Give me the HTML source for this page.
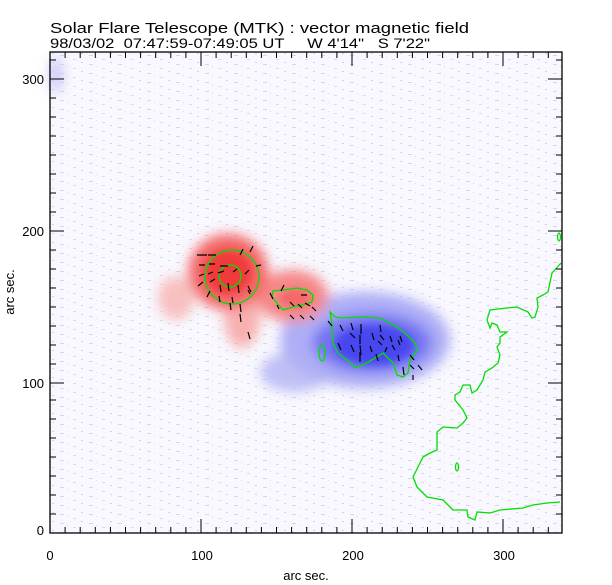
<!DOCTYPE html>
<html><head><style>
body{margin:0;background:#fff;}
svg{display:block;font-family:"Liberation Sans",sans-serif;}
</style></head><body>
<svg width="612" height="585" viewBox="0 0 612 585" xmlns="http://www.w3.org/2000/svg">
<defs>
<filter id="bl" x="-50%" y="-50%" width="200%" height="200%"><feGaussianBlur stdDeviation="6"/></filter>
<filter id="bl2" x="-50%" y="-50%" width="200%" height="200%"><feGaussianBlur stdDeviation="4"/></filter>
<pattern id="noise" width="29" height="9" patternUnits="userSpaceOnUse">
<rect x="2" y="1" width="4" height="1" fill="#d4d4f6"/><rect x="15" y="5" width="3" height="1" fill="#dadaf8"/><rect x="23" y="8" width="2" height="1" fill="#d0d0f4"/><rect x="9" y="3" width="1" height="1" fill="#f6d0d0"/>
</pattern>
</defs>
<text x="50" y="33" font-size="15" fill="#000" textLength="419" lengthAdjust="spacingAndGlyphs">Solar Flare Telescope (MTK) : vector magnetic field</text>
<text x="50" y="48" font-size="13.5" fill="#000" xml:space="preserve" style="white-space:pre" textLength="380" lengthAdjust="spacingAndGlyphs">98/03/02  07:47:59-07:49:05 UT     W 4'14"   S 7'22"</text>
<rect x="50" y="52" width="512" height="481" fill="#f8f8fe"/>
<rect x="50" y="52" width="512" height="481" fill="url(#noise)"/>
<g filter="url(#bl)">
<ellipse cx="56" cy="75" rx="6" ry="18" fill="#c4c4f4"/>
<ellipse cx="176" cy="298" rx="18" ry="22" fill="#f8c0c0"/>
<ellipse cx="242" cy="318" rx="18" ry="30" fill="#f8b0b0"/>
<ellipse cx="295" cy="372" rx="35" ry="20" fill="#c0c0f6"/>
<ellipse cx="365" cy="340" rx="85" ry="48" fill="#aeaef6"/>
<ellipse cx="372" cy="343" rx="60" ry="30" fill="#7474f2"/>
<ellipse cx="292" cy="296" rx="36" ry="26" fill="#f58888"/>
<ellipse cx="228" cy="272" rx="40" ry="38" fill="#f46868"/>
</g>
<g filter="url(#bl2)">
<ellipse cx="374" cy="345" rx="40" ry="20" fill="#4646f0"/>
<ellipse cx="228" cy="272" rx="24" ry="22" fill="#f03a3a"/>
<ellipse cx="295" cy="298" rx="16" ry="9" fill="#f46868"/>
</g>
<g fill="none" stroke="#00e000" stroke-width="1.3">
<circle cx="232" cy="277" r="27"/>
<circle cx="230" cy="276" r="11"/>
<path d="M273,291 L283,290 L297,288 L307,290 L313,295 L312,302 L303,305 L293,307 L283,310 L277,303 L272,297 Z"/>
<path d="M330,312 L335,317 L342,318 L360,317 L380,318 L397,327 L407,335 L415,343 L417,350 L410,360 L408,373 L403,377 L397,375 L393,363 L383,353 L377,357 L363,365 L355,367 L347,360 L338,353 L333,343 L332,333 L332,323 Z"/>
<ellipse cx="322" cy="353" rx="3" ry="8"/>
<ellipse cx="559" cy="237" rx="1.5" ry="4"/>
<ellipse cx="457" cy="467" rx="1.5" ry="4"/>
<path d="M561,263 L552,273 L548,292 L543,295 L537,298 L538,307 L535,317 L532,318 L528,312 L517,307 L507,308 L490,310 L487,320 L490,328 L492,323 L497,325 L500,332 L507,332 L500,337 L500,343 L497,347 L500,355 L498,363 L492,368 L485,372 L483,380 L477,390 L472,393 L470,385 L463,385 L460,392 L455,395 L455,400 L463,410 L467,418 L463,423 L457,428 L443,427 L437,432 L437,450 L430,453 L423,457 L418,467 L413,477 L417,487 L427,497 L443,500 L453,510 L467,510 L468,517 L475,520 L477,512 L490,513 L500,510 L523,508 L533,505 L547,503 L560,502"/>
</g>
<g stroke="#000" stroke-width="1.2">
<path d="M197,255h10M208,255h8M199,265h6M209,264h6M220,266h8M240,255l3,-6M250,252l3,-6M199,276l5,-2M208,274l5,-2M218,273l6,-2M233,272l4,-3M245,274l4,-4M256,266l5,-1M198,286l5,-4M210,282l5,-3M220,285l1,7M228,283l1,8M238,285l1,8M248,286l3,6M207,297l3,-6M219,296l1,6M232,297l1,6M250,294l-2,-4M230,303l1,7M240,304l1,8M240,314l1,8M248,332l2,7M270,293l3,6M281,291l3,-6M307,295l-6,0M277,305l2,4M290,302l4,4M298,304l4,4M305,303l5,3M312,307l4,4M290,315l4,4M300,315l4,4M310,316l4,4M328,321l4,5M340,325l3,6M351,323l2,7M361,324l0,10M380,325l1,7M350,333l5,5M360,335l0,9M372,333l2,7M380,335l4,5M390,336l2,6M400,336l2,6M338,343l3,7M351,345l3,7M360,345l1,10M370,346l2,6M382,345l-4,-4M392,345l3,5M400,345l-2,-5M360,352l0,10M376,354l2,7M385,352l2,-5M398,355l1,6M410,355l4,5M410,365l4,4M418,365l4,5M403,367l1,8M413,375l0,5"/>
</g>
<rect x="50" y="52" width="512" height="481" fill="none" stroke="#000" stroke-width="1.3"/>
<g stroke="#000" stroke-width="1">
<path d="M50,533v-6M65.1,533v-6M80.2,533v-6M95.3,533v-6M110.4,533v-6M125.5,533v-6M140.6,533v-6M155.7,533v-6M170.8,533v-6M185.9,533v-6M201,533v-14M216.1,533v-6M231.2,533v-6M246.3,533v-6M261.4,533v-6M276.5,533v-6M291.6,533v-6M306.7,533v-6M321.8,533v-6M336.9,533v-6M352,533v-14M367.1,533v-6M382.2,533v-6M397.3,533v-6M412.4,533v-6M427.5,533v-6M442.6,533v-6M457.7,533v-6M472.8,533v-6M487.9,533v-6M503,533v-14M518.1,533v-6M533.2,533v-6M548.3,533v-6"/>
<path d="M50,52v6M65.1,52v6M80.2,52v6M95.3,52v6M110.4,52v6M125.5,52v6M140.6,52v6M155.7,52v6M170.8,52v6M185.9,52v6M201,52v14M216.1,52v6M231.2,52v6M246.3,52v6M261.4,52v6M276.5,52v6M291.6,52v6M306.7,52v6M321.8,52v6M336.9,52v6M352,52v14M367.1,52v6M382.2,52v6M397.3,52v6M412.4,52v6M427.5,52v6M442.6,52v6M457.7,52v6M472.8,52v6M487.9,52v6M503,52v14M518.1,52v6M533.2,52v6M548.3,52v6"/>
<path d="M50,533h6M50,514h6M50,495h6M50,476h6M50,457h6M50,438h6M50,419h6M50,400h6M50,383h14M50,364h6M50,345h6M50,326h6M50,307h6M50,288h6M50,269h6M50,250h6M50,231h14M50,212h6M50,193h6M50,174h6M50,155h6M50,136h6M50,117h6M50,98h6M50,79h14M50,60h6"/>
<path d="M562,533h-6M562,514h-6M562,495h-6M562,476h-6M562,457h-6M562,438h-6M562,419h-6M562,400h-6M562,383h-14M562,364h-6M562,345h-6M562,326h-6M562,307h-6M562,288h-6M562,269h-6M562,250h-6M562,231h-14M562,212h-6M562,193h-6M562,174h-6M562,155h-6M562,136h-6M562,117h-6M562,98h-6M562,79h-14M562,60h-6"/>
</g>
<g font-size="13" fill="#000" text-anchor="middle">
<text x="50" y="560">0</text><text x="202" y="560">100</text><text x="353" y="560">200</text><text x="504" y="560">300</text>
<text x="306" y="580">arc sec.</text>
</g>
<g font-size="13" fill="#000" text-anchor="end">
<text x="44" y="535">0</text><text x="44" y="388">100</text><text x="44" y="236">200</text><text x="44" y="84">300</text>
</g>
<text transform="translate(14,292) rotate(-90)" font-size="13" text-anchor="middle" fill="#000">arc sec.</text>
</svg>
</body></html>
